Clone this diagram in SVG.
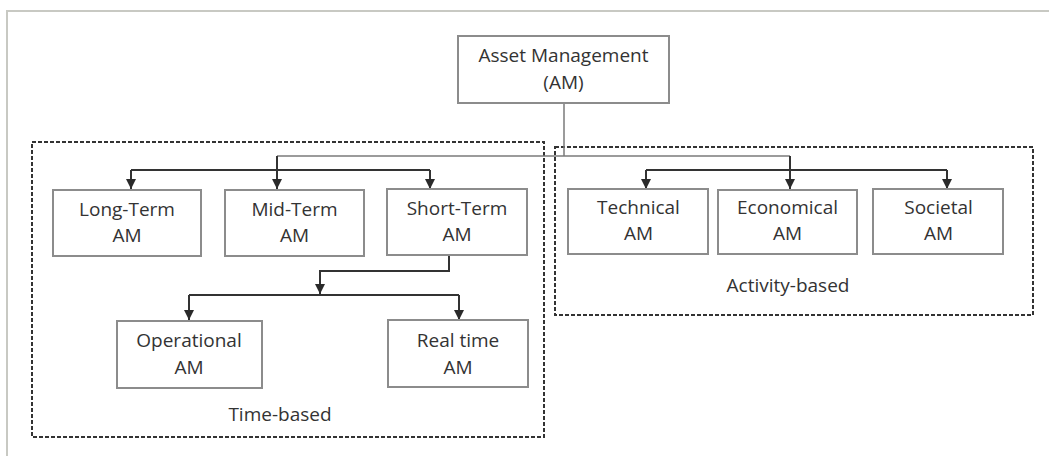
<svg xmlns="http://www.w3.org/2000/svg" width="1049" height="456" viewBox="0 0 1049 456">
<style>
.bg{fill:#ffffff}
.frame{fill:none;stroke:#c8c9c3;stroke-width:2}
.box{fill:#ffffff;stroke:#8c8c8c;stroke-width:2}
.grp{fill:none;stroke:#333333;stroke-width:2;stroke-dasharray:4 2}
.txt{font-family:"Open Sans","Liberation Sans",sans-serif;font-size:19px;fill:#333333;text-anchor:middle}
.con{fill:none;stroke:#333333;stroke-width:2}
.thin{fill:none;stroke:#7a7a7a;stroke-width:1.5}
</style>
<defs>
<marker id="arr" markerUnits="userSpaceOnUse" markerWidth="12" markerHeight="10" refX="10" refY="5" orient="auto">
<path d="M0,0 L10,5 L0,10 Z" fill="#2a2a2a"/>
</marker>
</defs>
<rect class="bg" x="0" y="0" width="1049" height="456"/>
<path class="frame" d="M7,456 V11 H1049"/>

<g id="group-time">
<rect class="grp" x="32" y="142" width="512" height="295"/>
<text class="txt" x="280" y="421">Time-based</text>
</g>
<g id="group-activity">
<rect class="grp" x="555" y="147" width="478" height="168"/>
<text class="txt" x="788" y="292">Activity-based</text>
</g>

<g id="connectors">
<path class="thin" d="M564,103 V156"/>
<path class="thin" d="M277,156 H790"/>
<path class="con" d="M277,156 V189" marker-end="url(#arr)"/>
<path class="con" d="M790,156 V189" marker-end="url(#arr)"/>
<path class="con" d="M131,170 H430"/>
<path class="con" d="M131,170 V189" marker-end="url(#arr)"/>
<path class="con" d="M430,170 V189" marker-end="url(#arr)"/>
<path class="con" d="M646,170 H947"/>
<path class="con" d="M646,170 V189" marker-end="url(#arr)"/>
<path class="con" d="M947,170 V189" marker-end="url(#arr)"/>
<path class="con" d="M449,255 V271 H320 V294" marker-end="url(#arr)"/>
<path class="con" d="M189,295 H459"/>
<path class="con" d="M189,295 V320" marker-end="url(#arr)"/>
<path class="con" d="M459,295 V320" marker-end="url(#arr)"/>
</g>

<g id="node-am">
<rect class="box" x="458" y="36" width="211" height="67"/>
<text class="txt" x="563.5" y="62">Asset Management</text>
<text class="txt" x="563.5" y="89">(AM)</text>
</g>
<g id="node-long">
<rect class="box" x="53" y="190" width="148" height="66"/>
<text class="txt" x="127" y="216">Long-Term</text>
<text class="txt" x="127" y="242">AM</text>
</g>
<g id="node-mid">
<rect class="box" x="225" y="190" width="139" height="66"/>
<text class="txt" x="294.5" y="216">Mid-Term</text>
<text class="txt" x="294.5" y="242">AM</text>
</g>
<g id="node-short">
<rect class="box" x="387" y="189" width="140" height="66"/>
<text class="txt" x="457" y="215">Short-Term</text>
<text class="txt" x="457" y="241">AM</text>
</g>
<g id="node-technical">
<rect class="box" x="568" y="189" width="140" height="65"/>
<text class="txt" x="638.5" y="214">Technical</text>
<text class="txt" x="638.5" y="240">AM</text>
</g>
<g id="node-economical">
<rect class="box" x="718" y="190" width="139" height="64"/>
<text class="txt" x="787.5" y="214">Economical</text>
<text class="txt" x="787.5" y="240">AM</text>
</g>
<g id="node-societal">
<rect class="box" x="873" y="189" width="130" height="65"/>
<text class="txt" x="938.5" y="214">Societal</text>
<text class="txt" x="938.5" y="240">AM</text>
</g>
<g id="node-operational">
<rect class="box" x="117" y="321" width="145" height="67"/>
<text class="txt" x="189" y="347">Operational</text>
<text class="txt" x="189" y="374">AM</text>
</g>
<g id="node-realtime">
<rect class="box" x="388" y="320" width="140" height="67"/>
<text class="txt" x="458" y="347">Real time</text>
<text class="txt" x="458" y="374">AM</text>
</g>
</svg>
